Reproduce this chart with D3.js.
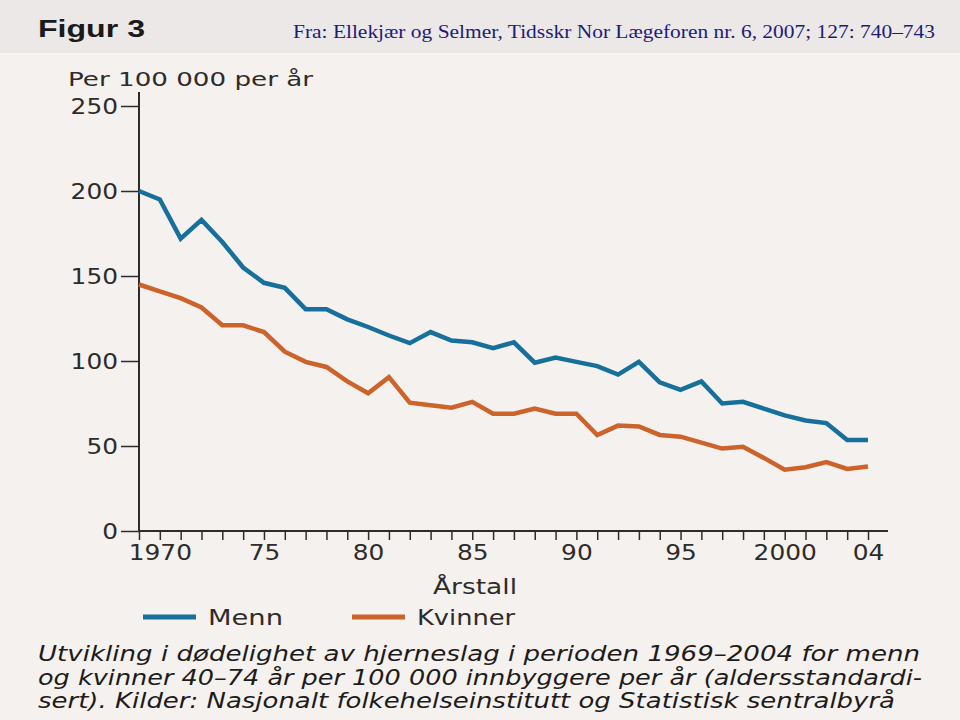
<!DOCTYPE html>
<html>
<head>
<meta charset="utf-8">
<script src="https://cdn.jsdelivr.net/npm/d3@7"></script>
<style>
  html, body { margin: 0; padding: 0; background: #f4f1ee; }
  svg { display: block; }
</style>
</head>
<body>
<svg id="chart" width="960" height="720"></svg>
<script>
const years = d3.range(1969, 2005);
const menn = [200,195,172,183,170,155,146,143,130.5,130.5,124.5,120,115,110.5,117,112,111,107.5,111,99,102,99.5,97,92,99.5,87.5,83,88,75,76,72,68,65,63.5,53.5,53.5];
const kvinner = [145,141,137,131.5,121,121,117,105.5,99.5,96.5,88,81,90.5,75.5,74,72.5,76,69,69,72,69,69,56.5,62,61.5,56.5,55.5,52,48.5,49.5,43,36,37.5,40.5,36.5,38];
const yTicks = [0, 50, 100, 150, 200, 250];
const xLabelYears = [1970, 1975, 1980, 1985, 1990, 1995, 2000, 2004];
const xLabels = ["1970", "75", "80", "85", "90", "95", "2000", "04"];
const seriesNames = ["Menn", "Kvinner"];
const colors = ["#17709c", "#cc632a"];
const captionLines = [
  "Utvikling i dødelighet av hjerneslag i perioden 1969–2004 for menn",
  "og kvinner 40–74 år per 100 000 innbyggere per år (aldersstandardi-",
  "sert). Kilder: Nasjonalt folkehelseinstitutt og Statistisk sentralbyrå"
];

const svg = d3.select("#chart");
const font = "'DejaVu Sans', sans-serif";
const ink = "#2e2b2b";
const charW = 15.8;

// header band
svg.append("rect").attr("x", 0).attr("y", 0).attr("width", 960).attr("height", 53).attr("fill", "#ebe8e7");
svg.append("rect").attr("x", 0).attr("y", 53).attr("width", 960).attr("height", 2).attr("fill", "#f8f6f5");
svg.append("text").attr("x", 38).attr("y", 37).text("Figur 3")
  .attr("font-family", "'Liberation Sans', Arial, sans-serif").attr("font-weight", "bold")
  .attr("font-size", 24).attr("fill", "#1a1a1a")
  .attr("textLength", 107).attr("lengthAdjust", "spacingAndGlyphs");
svg.append("text").attr("x", 293).attr("y", 38)
  .text("Fra: Ellekjær og Selmer, Tidsskr Nor Lægeforen nr. 6, 2007; 127: 740–743")
  .attr("font-family", "'Liberation Serif', 'Times New Roman', serif")
  .attr("font-size", 19).attr("fill", "#1c1c78")
  .attr("textLength", 642).attr("lengthAdjust", "spacingAndGlyphs");

const x = d3.scaleLinear().domain([1969, 2004]).range([139, 868]);
const y = d3.scaleLinear().domain([0, 250]).range([531, 106]);

// y label
svg.append("text").attr("x", 68).attr("y", 86).text("Per 100 000 per år")
  .attr("font-family", font).attr("font-size", 20).attr("fill", ink)
  .attr("textLength", 245).attr("lengthAdjust", "spacingAndGlyphs");

// y axis
const yAxis = d3.axisLeft(y).tickValues(yTicks).tickSize(18).tickPadding(3).tickFormat(d3.format("d"));
const gy = svg.append("g").attr("transform", "translate(139,0)").call(yAxis);
gy.select(".domain").remove();
gy.selectAll(".tick line").attr("stroke", ink).attr("stroke-width", 1.5);
gy.selectAll(".tick text").attr("font-family", font).attr("font-size", 21).attr("fill", ink)
  .attr("dy", "0.36em")
  .attr("textLength", function() { return this.textContent.length * charW; })
  .attr("lengthAdjust", "spacingAndGlyphs");
svg.append("line").attr("x1", 139).attr("x2", 139).attr("y1", 92).attr("y2", 531)
  .attr("stroke", ink).attr("stroke-width", 2);

// x axis
const xAxis = d3.axisBottom(x).tickValues(years).tickSize(9).tickPadding(5).tickFormat(d => {
  const i = xLabelYears.indexOf(d);
  return i >= 0 ? xLabels[i] : "";
});
const gx = svg.append("g").attr("transform", "translate(0,531)").call(xAxis);
gx.select(".domain").remove();
gx.selectAll(".tick line").attr("stroke", ink).attr("stroke-width", 1.5);
gx.selectAll(".tick text").filter(function() { return this.textContent.length > 0; })
  .attr("font-family", font).attr("font-size", 21).attr("fill", ink)
  .attr("textLength", function() { return this.textContent.length * charW; })
  .attr("lengthAdjust", "spacingAndGlyphs");
svg.append("line").attr("x1", 139).attr("x2", 888).attr("y1", 531).attr("y2", 531)
  .attr("stroke", ink).attr("stroke-width", 2);

svg.append("text").attr("x", 433).attr("y", 594).text("Årstall")
  .attr("font-family", font).attr("font-size", 21).attr("fill", ink)
  .attr("textLength", 84).attr("lengthAdjust", "spacingAndGlyphs");

// lines
const line = d3.line().x((d, i) => x(years[i])).y(d => y(d));
[menn, kvinner].forEach((s, k) => {
  svg.append("path").datum(s).attr("d", line).attr("fill", "none")
    .attr("stroke", colors[k]).attr("stroke-width", 4.5)
    .attr("stroke-linejoin", "miter").attr("stroke-linecap", "butt");
});

// legend
const legendX = [143, 352];
const legendLen = [75, 98];
seriesNames.forEach((n, k) => {
  svg.append("line").attr("x1", legendX[k]).attr("x2", legendX[k] + 53).attr("y1", 617).attr("y2", 617)
    .attr("stroke", colors[k]).attr("stroke-width", 5);
  svg.append("text").attr("x", legendX[k] + 65).attr("y", 625).text(n)
    .attr("font-family", font).attr("font-size", 22).attr("fill", ink)
    .attr("textLength", legendLen[k]).attr("lengthAdjust", "spacingAndGlyphs");
});

// caption
const capLen = [882, 884, 857];
captionLines.forEach((t, i) => {
  svg.append("text").attr("x", 38).attr("y", 661 + i * 23.5).text(t)
    .attr("font-family", font).attr("font-style", "italic").attr("font-size", 22).attr("fill", "#1e1b1b")
    .attr("textLength", capLen[i]).attr("lengthAdjust", "spacingAndGlyphs");
});
</script>
</body>
</html>
